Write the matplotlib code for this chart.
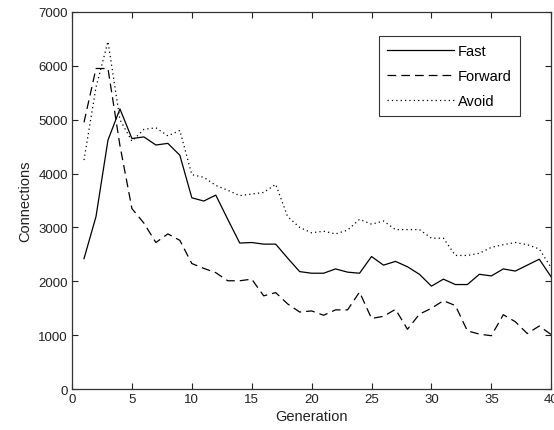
import matplotlib
matplotlib.use("Agg")
import matplotlib.pyplot as plt

# ── Datos ────────────────────────────────────────────────────
generaciones = list(range(1, 41))

fast = [2420, 3200, 4620, 5200, 4650, 4680, 4530, 4560, 4340, 3550,
        3490, 3600, 3150, 2710, 2720, 2690, 2690, 2430, 2180, 2150,
        2150, 2230, 2170, 2150, 2460, 2300, 2370, 2270, 2130, 1910,
        2040, 1940, 1940, 2130, 2100, 2230, 2190, 2300, 2410, 2080]

forward = [4950, 5950, 5950, 4520, 3350, 3080, 2720, 2880, 2760, 2330,
           2240, 2160, 2010, 2010, 2040, 1730, 1790, 1580, 1430, 1450,
           1370, 1470, 1470, 1800, 1310, 1350, 1480, 1110, 1390, 1500,
           1640, 1550, 1080, 1020, 990, 1380, 1250, 1030, 1170, 1010]

avoid = [4250, 5600, 6450, 5000, 4600, 4820, 4850, 4700, 4800, 3980,
         3930, 3780, 3690, 3590, 3620, 3650, 3800, 3200, 3000, 2900,
         2930, 2880, 2950, 3150, 3060, 3120, 2960, 2960, 2960, 2800,
         2800, 2480, 2480, 2520, 2630, 2680, 2720, 2680, 2600, 2250]

etiquetas = ["Fast", "Forward", "Avoid"]

# ── Figura ───────────────────────────────────────────────────
plt.rcParams["font.family"] = ["Liberation Sans", "DejaVu Sans"]

fig = plt.figure(figsize=(5.54, 4.31), dpi=100)
ax = fig.add_axes([0.130, 0.095, 0.865, 0.875])

ax.plot(generaciones, fast, color="black", linewidth=0.9, linestyle="-",
        label=etiquetas[0])
ax.plot(generaciones, forward, color="black", linewidth=0.9,
        linestyle=(0, (7, 4)), label=etiquetas[1])
ax.plot(generaciones, avoid, color="black", linewidth=0.9,
        linestyle=(0, (1, 2.5)), label=etiquetas[2])

ax.set_xlim(0, 40)
ax.set_ylim(0, 7000)
ax.set_xticks(range(0, 41, 5))
ax.set_yticks(range(0, 7001, 1000))
ax.tick_params(direction="in", top=True, right=True, length=4,
               width=0.8, labelsize=9.5, colors="#222222", pad=3)
for lado in ax.spines.values():
    lado.set_linewidth(0.9)
    lado.set_color("#333333")

ax.set_xlabel("Generation", fontsize=10.5, labelpad=3, color="#222222")
ax.set_ylabel("Connections", fontsize=10.5, labelpad=4, color="#222222")

leg = ax.legend(loc="upper right", bbox_to_anchor=(0.935, 0.936),
                fontsize=10.5, frameon=True, fancybox=False,
                edgecolor="black", handlelength=4.6, handletextpad=0.3,
                labelspacing=0.75, borderpad=0.55, borderaxespad=0)
leg.get_frame().set_linewidth(0.8)

fig.savefig("out.png", dpi=100)
plt.close(fig)
